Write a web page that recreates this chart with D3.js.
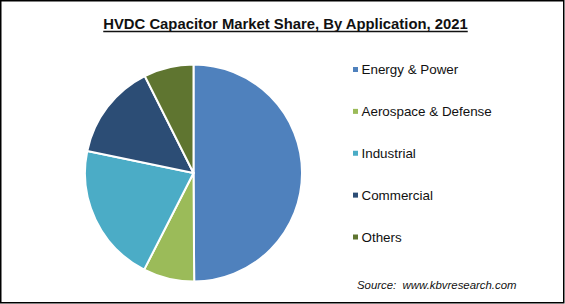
<!DOCTYPE html>
<html><head><meta charset="utf-8">
<script src="https://cdn.jsdelivr.net/npm/d3@7"></script>
<style>html,body{margin:0;padding:0;background:#fff;}svg{display:block;}</style>
</head><body>
<svg id="c" width="565" height="304"></svg>
<script>
const categories = ["Energy & Power", "Aerospace & Defense", "Industrial", "Commercial", "Others"];
const shares = [49.8, 7.6, 20.7, 14.3, 7.4];
const colors = ["#4f81bd", "#9bbb59", "#4bacc6", "#2c4d75", "#5f7530"];
const titleText = "HVDC Capacitor Market Share, By Application, 2021";
const sourceText = "Source:  www.kbvresearch.com";

const svg = d3.select("#c");
const W = 565, H = 304;
svg.append("rect").attr("x", 0).attr("y", 0).attr("width", W).attr("height", H).attr("fill", "#fff");
svg.append("rect").attr("x", 0.75).attr("y", 0.75).attr("width", W - 2).attr("height", H - 2)
  .attr("fill", "none").attr("stroke", "#000").attr("stroke-width", 1.5);

// Title
const title = svg.append("text").attr("x", 285.5).attr("y", 29).attr("text-anchor", "middle")
  .attr("font-family", "Liberation Sans, Arial, sans-serif").attr("font-weight", "bold")
  .attr("font-size", 16).attr("fill", "#111").text(titleText);
let tw = title.node().getComputedTextLength();
const fs = 16 * 365 / tw;
title.attr("font-size", fs);
tw = title.node().getComputedTextLength();
svg.append("line").attr("x1", 285.5 - tw / 2).attr("x2", 285.5 + tw / 2)
  .attr("y1", 31.5).attr("y2", 31.5).attr("stroke", "#111").attr("stroke-width", 1.3);

// Pie
const cx = 193.5, cy = 173, r = 108.5;
const pie = d3.pie().sort(null).value(d => d.v);
const arc = d3.arc().innerRadius(0).outerRadius(r);
const data = categories.map((c, i) => ({ c, v: shares[i], col: colors[i] }));
const g = svg.append("g").attr("transform", `translate(${cx},${cy})`);
g.selectAll("path").data(pie(data)).join("path")
  .attr("d", arc).attr("fill", d => d.data.col)
  .attr("stroke", "#fff").attr("stroke-width", 2).attr("stroke-linejoin", "round");

// Legend
const ly = d3.scalePoint().domain(categories).range([69.5, 237]);
const lg = svg.append("g");
const items = lg.selectAll("g").data(data).join("g")
  .attr("transform", d => `translate(353,${ly(d.c)})`);
items.append("rect").attr("x", 0).attr("y", -2.5).attr("width", 5).attr("height", 5).attr("fill", d => d.col);
items.append("text").attr("x", 8.5).attr("y", 0).attr("dy", "0.35em")
  .attr("font-family", "Liberation Sans, Arial, sans-serif").attr("font-size", 13.4)
  .attr("fill", "#111").text(d => d.c);

// Source
svg.append("text").attr("x", 357).attr("y", 289).style("white-space", "pre")
  .attr("font-family", "Liberation Sans, Arial, sans-serif").attr("font-style", "italic")
  .attr("font-size", 11.4).attr("fill", "#111").text(sourceText);
</script>
</body></html>
